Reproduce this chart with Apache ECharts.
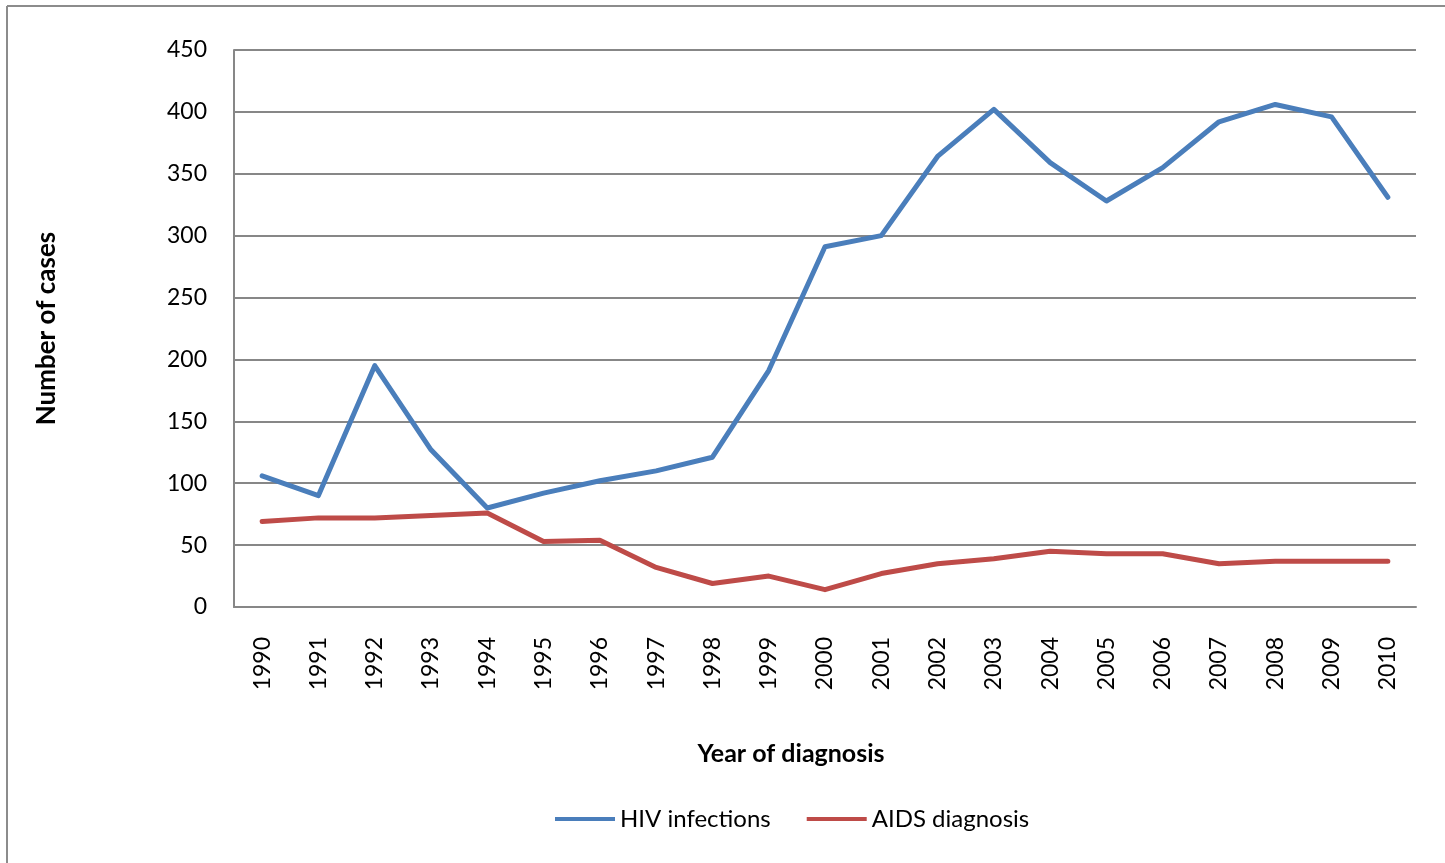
<!DOCTYPE html>
<html>
<head>
<meta charset="utf-8">
<script src="https://cdn.jsdelivr.net/npm/echarts@6/dist/echarts.min.js"></script>
<style>
  html, body { margin: 0; padding: 0; background: #fff; }
  #chart { width: 1445px; height: 863px; }
</style>
</head>
<body>
<div id="chart"></div>
<script>
const years = ["1990", "1991", "1992", "1993", "1994", "1995", "1996", "1997", "1998", "1999", "2000",
    "2001", "2002", "2003", "2004", "2005", "2006", "2007", "2008", "2009", "2010"];
const hivInfections = [106, 90, 195, 127, 80, 92, 102, 110, 121, 191, 291, 300, 364, 402, 359, 328, 355, 392, 406, 396, 331];
const aidsDiagnosis = [69, 72, 72, 74, 76, 53, 54, 32, 19, 25, 14, 27, 35, 39, 45, 43, 43, 35, 37, 37, 37];

const font = "Lato, 'Open Sans', sans-serif";
const gridGray = "#878787";

const chart = echarts.init(document.getElementById("chart"));
const option = {
    backgroundColor: "#fff",
    animation: false,
    textStyle: { fontFamily: font },
    graphic: [
        // outer chart-area frame (top and left edges visible)
        { type: "line", shape: { x1: 7, y1: 6, x2: 1445, y2: 6 }, style: { stroke: "#8c8c8c", lineWidth: 2 } },
        { type: "line", shape: { x1: 7, y1: 6, x2: 7, y2: 863 }, style: { stroke: "#8c8c8c", lineWidth: 2 } }
    ],
    grid: { left: 234, right: 29, top: 50, bottom: 256 },
    legend: {
        data: ["HIV infections", "AIDS diagnosis"],
        left: 555,
        top: 807,
        itemWidth: 60,
        itemHeight: 4,
        itemGap: 36,
        icon: "rect",
        textStyle: { fontFamily: font, fontSize: 24, color: "#000" },
        padding: [0, 0, 0, 0]
    },
    xAxis: {
        type: "category",
        data: years,
        boundaryGap: true,
        name: "Year of diagnosis",
        nameLocation: "middle",
        nameGap: 134,
        nameTextStyle: { fontFamily: font, fontSize: 25, fontWeight: "bold", color: "#000", padding: [0, 68, 0, 0] },
        axisLine: { lineStyle: { color: gridGray, width: 2 } },
        axisTick: { show: false },
        axisLabel: { rotate: 90, margin: 30, fontFamily: font, fontSize: 23, color: "#000", interval: 0 }
    },
    yAxis: {
        type: "value",
        min: 0,
        max: 450,
        interval: 50,
        name: "Number of cases",
        nameLocation: "middle",
        nameGap: 174,
        nameRotate: 90,
        nameTextStyle: { fontFamily: font, fontSize: 26, fontWeight: "bold", color: "#000" },
        axisLine: { show: true, lineStyle: { color: gridGray, width: 2 } },
        axisTick: { show: false },
        axisLabel: { margin: 27, fontFamily: font, fontSize: 23, color: "#000" },
        splitLine: { lineStyle: { color: gridGray, width: 2 } }
    },
    series: [
        {
            name: "HIV infections",
            type: "line",
            data: hivInfections,
            symbol: "none",
            color: "#4A7EBB",
            lineStyle: { width: 5, color: "#4A7EBB", cap: "round", join: "round" }
        },
        {
            name: "AIDS diagnosis",
            type: "line",
            data: aidsDiagnosis,
            symbol: "none",
            color: "#BE4B48",
            lineStyle: { width: 5, color: "#BE4B48", cap: "round", join: "round" }
        }
    ]
};
chart.setOption(option);
</script>
</body>
</html>
